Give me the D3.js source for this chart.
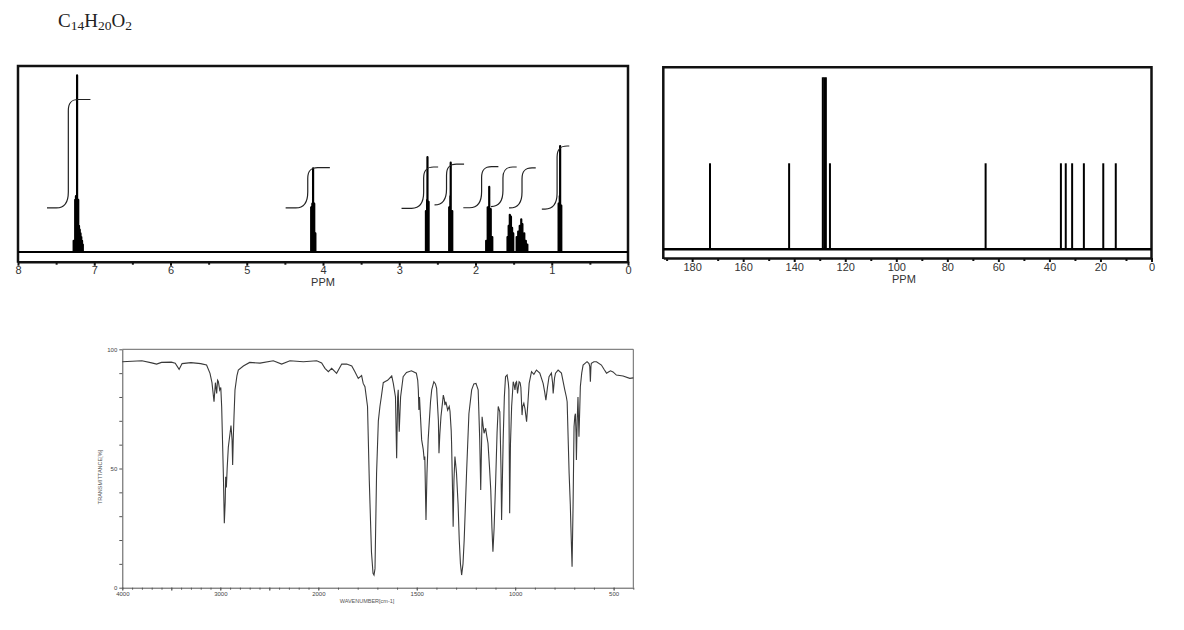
<!DOCTYPE html>
<html>
<head>
<meta charset="utf-8">
<script src="https://cdn.jsdelivr.net/npm/d3@7"></script>
<style>
  body { margin: 0; background: #fff; }
  svg { display: block; }
</style>
</head>
<body>
<svg id="chart"></svg>
<script>
var width = 1184;
var height = 630;

var svg = d3.select("#chart")
  .attr("width", width)
  .attr("height", height);

svg.append("rect").attr("width", width).attr("height", height).attr("fill", "#fff");

// ---- 1H NMR lines (ppm, relative height) ----
var h1Ppm = [7.27, 7.25, 7.24, 7.225, 7.21, 7.20, 7.19, 7.18, 7.17, 7.16, 7.15,
             4.155, 4.14, 4.13, 4.115, 4.10,
             2.65, 2.635, 2.63, 2.615,
             2.345, 2.33, 2.325, 2.305,
             1.86, 1.84, 1.82, 1.80, 1.78,
             1.58, 1.565, 1.55, 1.535, 1.52, 1.505,
             1.46, 1.44, 1.42, 1.40, 1.385, 1.36, 1.34, 1.32,
             0.91, 0.895, 0.89, 0.875];
var h1Int = [6, 28, 30, 95, 28, 14, 12, 10, 8, 6, 4,
             24, 26, 45, 26, 10,
             22, 28, 51, 27,
             24, 30, 48, 22,
             6, 24, 35, 23, 8,
             8, 14, 20, 19, 13, 10,
             8, 11, 14, 17.6, 15, 10, 6, 4,
             26, 30, 57, 25];

// integral curves: start, rise, end (ppm), lower and upper level
var integStart = [7.62, 4.49, 2.97, 2.51, 2.16, 1.79, 1.56, 1.13];
var integRise  = [7.34, 4.20, 2.68, 2.38, 1.92, 1.64, 1.39, 0.93];
var integEnd   = [7.05, 3.91, 2.49, 2.15, 1.70, 1.46, 1.21, 0.77];
var integLow   = [23.7, 23.7, 23.5, 25.3, 23.8, 24.4, 23.7, 23.1];
var integHigh  = [82, 45.4, 45.7, 47.2, 45.9, 45.7, 45.2, 57];

var h1Ticks = [8, 7, 6, 5, 4, 3, 2, 1, 0];

// ---- 13C NMR lines ----
var c13Ppm = [173, 142, 128.8, 128.2, 127.6, 126, 65, 35.5, 33.6, 31.1, 26.5, 18.9, 14.0];
var c13Int = [1, 1, 2, 2, 2, 1, 1, 1, 1, 1, 1, 1, 1];
var c13Ticks = [180, 160, 140, 120, 100, 80, 60, 40, 20, 0];

// ---- IR spectrum (wavenumber cm-1, transmittance %) ----
var irWave = [4000, 3900, 3800, 3700, 3650, 3600, 3500, 3460, 3420, 3390, 3300, 3200, 3140,
  3105, 3085, 3064, 3050, 3037, 3028, 3020, 3006, 2995, 2986, 2969, 2959, 2950, 2945, 2938,
  2930, 2918, 2900, 2891, 2880, 2874, 2868, 2860, 2850, 2830, 2816, 2765, 2700, 2595, 2459,
  2374, 2289, 2153, 2016, 1983, 1966, 1949, 1932, 1907, 1881, 1856, 1830, 1814, 1797, 1780,
  1772, 1763, 1750, 1741, 1730, 1722, 1717, 1712, 1704, 1695, 1687, 1680, 1670, 1660, 1648,
  1627, 1619, 1608, 1602, 1597, 1594, 1589, 1582, 1569, 1552, 1527, 1502, 1495, 1492, 1489,
  1486, 1475, 1467, 1462, 1459, 1453, 1448, 1442, 1430, 1424, 1413, 1405, 1399, 1390, 1387,
  1383, 1377, 1370, 1365, 1360, 1357, 1352, 1348, 1343, 1335, 1331, 1325, 1323, 1318, 1315,
  1311, 1306, 1300, 1298, 1290, 1284, 1278, 1272, 1265, 1259, 1247, 1235, 1221, 1210, 1199,
  1188, 1180, 1175, 1172, 1168, 1163, 1158, 1150, 1145, 1138, 1130, 1124, 1118, 1113, 1107,
  1099, 1092, 1086, 1078, 1072, 1069, 1065, 1061, 1055, 1049, 1041, 1035, 1032, 1028, 1024,
  1018, 1010, 1005, 1001, 997, 993, 988, 984, 980, 975, 971, 965, 962, 956, 950, 942, 935,
  929, 917, 905, 892, 875, 858, 850, 844, 836, 828, 816, 810, 807, 800, 795, 782, 765, 748,
  740, 736, 730, 726, 720, 717, 711, 706, 701, 697, 694, 691, 689, 685, 681, 678, 676, 672,
  669, 662, 655, 635, 625, 621, 618, 615, 613, 600, 587, 562, 548, 536, 526, 516, 503, 486,
  452, 418, 400];
var irTrans = [94.8, 95.0, 95.2, 94.3, 93.8, 94.5, 94.6, 94.2, 91.6, 94.0, 94.4, 94.0, 93.4,
  89.9, 86, 78, 86, 81.5, 87, 86.5, 82.9, 84, 75.9, 48, 27, 36, 46.5, 42,
  50, 59, 65, 68, 62, 51.5, 62, 72, 83, 89, 91.3, 93, 94.5, 94.2, 95.2,
  93.8, 95.2, 94.8, 95.2, 94.3, 92, 90.6, 92, 89.9, 93.8, 93.8, 93, 90.6, 87.8, 89,
  85.7, 84.3, 76, 45, 15, 6, 5.3, 8, 48, 70, 76, 80, 86, 86.5, 87,
  88.8, 85.7, 80, 54.3, 80, 83, 65.4, 80, 88.5, 90.3, 91, 90, 87, 83, 74.5,
  80, 62, 58, 53.6, 55, 28.4, 48, 62, 78, 83, 86.4, 85.5, 83.6, 70, 56.4,
  64, 71.7, 77, 80.8, 79, 76.6, 78, 76.5, 74.5, 76, 74, 66, 60.6, 40, 25.6,
  45, 55, 50, 48, 35, 20, 10, 5.3, 10, 20, 48, 73, 83, 85.5, 85.7,
  83, 62, 41, 55, 71.7, 68, 64.8, 66.9, 64, 60.6, 50, 41, 25, 15.1, 25,
  45, 65, 76, 73.8, 50, 28.4, 45, 62, 80, 88.5, 89.2, 86, 83, 31.2, 60,
  76, 86.4, 85, 83, 86, 86.4, 81.5, 84, 86.4, 86, 84, 72.4, 76, 77.4, 75, 69.6, 78,
  85.7, 90.6, 89.5, 91.3, 90, 85.7, 82, 78.7, 84, 88.5, 90, 86, 81.5, 88, 90, 91.3, 90, 83,
  80, 78, 60, 48, 35, 25.6, 8.8, 34, 67.5, 72, 73, 65, 53.6, 70, 80, 70, 63.3, 75,
  84.3, 90, 93.4, 94.8, 94, 92.7, 86.4, 93, 94.1, 94.8, 94.8, 93.4, 91.5, 90, 90.5, 91, 90.5, 89.2,
  88.8, 87.8, 88];
var irLabels = [4000, 3000, 2000, 1500, 1000, 500];

var sansFont = "Liberation Sans, Arial, sans-serif";

// ---- formula ----
var formula = svg.append("text")
  .attr("x", 58).attr("y", 27)
  .attr("font-family", "Liberation Serif, Times New Roman, serif")
  .attr("font-size", 19)
  .attr("fill", "#222");
[["C", false], ["14", true], ["H", false], ["20", true], ["O", false], ["2", true]].forEach(function(p, i, arr) {
  var prevSub = i > 0 && arr[i - 1][1];
  formula.append("tspan")
    .attr("font-size", p[1] ? 13.5 : 19)
    .attr("dy", p[1] ? 3 : (prevSub ? -3 : 0))
    .text(p[0]);
});

// =============== 1H NMR ===============
var h1x = d3.scaleLinear().domain([8, 0]).range([18, 628]);
var h1y = d3.scaleLinear().domain([0, 100]).range([252, 66]);
var h1Axis = 261.7;

var h1 = svg.append("g");

h1.append("path")
  .attr("d", "M" + h1x(8) + "," + (h1Axis + 1) + "V" + h1y(100) + "H" + h1x(0) + "V" + (h1Axis + 1))
  .attr("fill", "none").attr("stroke", "#111").attr("stroke-width", 2.5);

var h1Pts = [[h1x(8), h1y(0)]];
h1Ppm.forEach(function(p, i) {
  h1Pts.push([h1x(p), h1y(0)], [h1x(p), h1y(h1Int[i])], [h1x(p), h1y(0)]);
});
h1Pts.push([h1x(0), h1y(0)]);

h1.append("path")
  .attr("d", d3.line()(h1Pts))
  .attr("fill", "none").attr("stroke", "#000").attr("stroke-width", 2.2)
  .attr("stroke-linejoin", "round");

integStart.forEach(function(s, i) {
  var x0 = h1x(s), xr = h1x(integRise[i]), x1 = h1x(integEnd[i]);
  var yl = h1y(integLow[i]), yh = h1y(integHigh[i]);
  var p = d3.path();
  p.moveTo(x0, yl);
  p.lineTo(xr - 12, yl);
  p.bezierCurveTo(xr - 3, yl, xr, yl - 6, xr, yl - 16);
  p.lineTo(xr, yh + 11);
  p.bezierCurveTo(xr, yh + 3, xr + 3, yh, xr + 10, yh);
  p.lineTo(x1, yh);
  h1.append("path").attr("d", p.toString())
    .attr("fill", "none").attr("stroke", "#222").attr("stroke-width", 1.2);
});

var h1AxisG = h1.append("g").attr("transform", "translate(0," + h1Axis + ")");
h1AxisG.call(d3.axisBottom(h1x).tickValues(h1Ticks).tickSize(4).tickPadding(1).tickSizeOuter(0).tickFormat(d3.format("d")));
h1AxisG.append("g").call(d3.axisBottom(h1x).tickValues(d3.range(0.5, 8, 1)).tickSize(3).tickFormat(""))
  .select(".domain").remove();
h1AxisG.selectAll(".domain").attr("stroke", "#111").attr("stroke-width", 2.4);
h1AxisG.selectAll(".tick line").attr("stroke", "#111").attr("stroke-width", 2);
h1AxisG.selectAll(".tick text").attr("font-family", sansFont).attr("font-size", 11).attr("fill", "#333");

h1.append("text").attr("x", h1x(4)).attr("y", 286).attr("text-anchor", "middle")
  .attr("font-family", sansFont).attr("font-size", 11).attr("fill", "#333").text("PPM");

// =============== 13C NMR ===============
var c13x = d3.scaleLinear().domain([191.3, 0]).range([663.3, 1151.5]);
var c13y = d3.scaleLinear().domain([0, 2.116]).range([249.3, 67.3]);
var c13Axis = 258;

var c13 = svg.append("g");

c13.append("path")
  .attr("d", "M" + c13x(191.3) + "," + (c13Axis + 1) + "V" + c13y(2.116) + "H" + c13x(0) + "V" + (c13Axis + 1))
  .attr("fill", "none").attr("stroke", "#111").attr("stroke-width", 2.5);

c13.append("line")
  .attr("x1", c13x(191.3)).attr("x2", c13x(0))
  .attr("y1", c13y(0)).attr("y2", c13y(0))
  .attr("stroke", "#000").attr("stroke-width", 2.4);

c13.selectAll("line.peak")
  .data(c13Ppm)
  .enter()
  .append("line")
  .attr("class", "peak")
  .attr("x1", function(d) { return c13x(d); })
  .attr("x2", function(d) { return c13x(d); })
  .attr("y1", c13y(0))
  .attr("y2", function(d, i) { return c13y(c13Int[i]); })
  .attr("stroke", "#000").attr("stroke-width", 2);

var c13AxisG = c13.append("g").attr("transform", "translate(0," + c13Axis + ")");
c13AxisG.call(d3.axisBottom(c13x).tickValues(c13Ticks).tickSize(4).tickPadding(1).tickSizeOuter(0).tickFormat(d3.format("d")));
c13AxisG.append("g").call(d3.axisBottom(c13x).tickValues(d3.range(10, 191, 20)).tickSize(3).tickFormat(""))
  .select(".domain").remove();
c13AxisG.selectAll(".domain").attr("stroke", "#111").attr("stroke-width", 2.4);
c13AxisG.selectAll(".tick line").attr("stroke", "#111").attr("stroke-width", 2);
c13AxisG.selectAll(".tick text").attr("font-family", sansFont).attr("font-size", 11).attr("fill", "#333");

c13.append("text").attr("x", c13x(97)).attr("y", 283).attr("text-anchor", "middle")
  .attr("font-family", sansFont).attr("font-size", 11).attr("fill", "#333").text("PPM");

// =============== IR ===============
var irx = d3.scaleLinear().domain([4000, 2000, 400]).range([122.3, 318.3, 633.3]);
var iry = d3.scaleLinear().domain([0, 100]).range([587.7, 349.3]);

var ir = svg.append("g");

ir.append("path")
  .attr("d", "M" + irx(4000) + "," + iry(100) + "H" + irx(400) + "V" + iry(0))
  .attr("fill", "none").attr("stroke", "#666").attr("stroke-width", 1);

var irLeft = ir.append("g").attr("transform", "translate(" + irx(4000) + ",0)");
irLeft.call(d3.axisLeft(iry).tickValues(d3.range(0, 101, 10)).tickSize(3).tickPadding(2).tickSizeOuter(0)
  .tickFormat(function(d) { return d % 50 === 0 ? d : ""; }));

var irBottom = ir.append("g").attr("transform", "translate(0," + iry(0) + ")");
irBottom.call(d3.axisBottom(irx).tickValues(d3.range(500, 4001, 500)).tickSize(3).tickPadding(1).tickSizeOuter(0)
  .tickFormat(function(d) { return irLabels.indexOf(d) >= 0 ? d : ""; }));
irBottom.append("g").call(d3.axisBottom(irx).tickValues(d3.range(400, 4001, 100)).tickSize(2).tickFormat(""))
  .select(".domain").remove();

ir.selectAll(".domain").attr("stroke", "#555").attr("stroke-width", 1);
ir.selectAll(".tick line").attr("stroke", "#555").attr("stroke-width", 1);
ir.selectAll(".tick text").attr("font-family", sansFont).attr("font-size", 6).attr("fill", "#444");

ir.append("path")
  .datum(irWave)
  .attr("d", d3.line()
    .x(function(d) { return irx(d); })
    .y(function(d, i) { return iry(irTrans[i]); }))
  .attr("fill", "none").attr("stroke", "#3a3a3a").attr("stroke-width", 1.1);

ir.append("text")
  .attr("transform", "translate(101.7,477) rotate(-90)")
  .attr("text-anchor", "middle")
  .attr("font-family", sansFont).attr("font-size", 5.5).attr("fill", "#555")
  .text("TRANSMITTANCE[%]");

ir.append("text")
  .attr("x", 367).attr("y", 603)
  .attr("text-anchor", "middle")
  .attr("font-family", sansFont).attr("font-size", 5.5).attr("fill", "#555")
  .text("WAVENUMBER[cm-1]");
</script>
</body>
</html>
